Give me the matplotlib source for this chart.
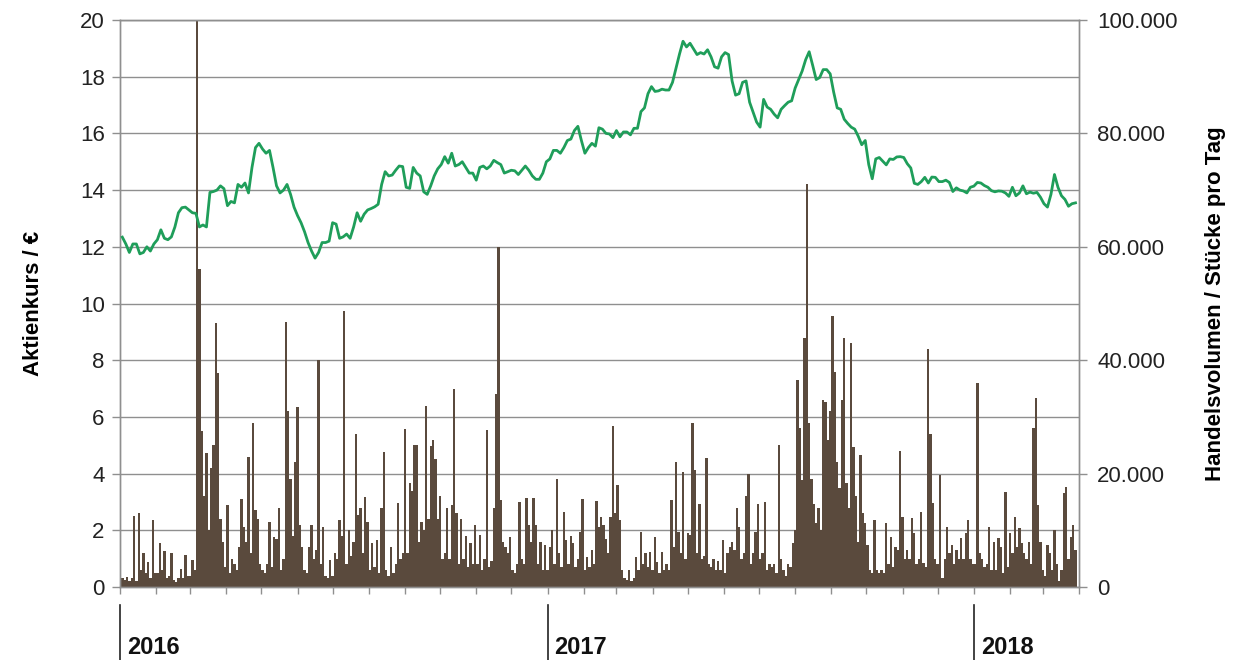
import pandas as pd
import matplotlib
matplotlib.use("Agg")
import matplotlib.pyplot as plt
import matplotlib.dates as mdates
from matplotlib.ticker import MultipleLocator, FuncFormatter
from matplotlib.transforms import blended_transform_factory

plt.rcParams["font.family"] = ["Liberation Sans", "DejaVu Sans"]

# share price in EUR, sampled every 3 calendar days from 2016-01-03
price_2016 = [
    12.34, 12.1, 11.8, 12.1, 12.1, 11.75, 11.8, 12.0, 11.85, 12.1,
    12.25, 12.6, 12.3, 12.25, 12.35, 12.7, 13.2, 13.38, 13.4, 13.3,
    13.2, 13.18, 12.7, 12.77, 12.7, 13.92, 13.95, 14.0, 14.15, 14.05,
    13.45, 13.6, 13.55, 14.2, 14.1, 14.25, 13.9, 14.8, 15.5, 15.65,
    15.45, 15.3, 15.4, 14.8, 14.15, 13.9, 14.0, 14.2, 13.85, 13.4,
    13.1, 12.85, 12.53, 12.15, 11.85, 11.6, 11.8, 12.15, 12.15, 12.2,
    12.85, 12.8, 12.3, 12.35, 12.45, 12.3, 12.7, 13.2, 12.9, 13.15,
    13.3, 13.35, 13.41, 13.5, 14.2, 14.65, 14.5, 14.53, 14.7, 14.85,
    14.83, 14.1, 14.06, 14.8, 14.6, 14.5, 13.94, 13.85, 14.15, 14.5,
    14.75, 14.9, 15.18, 14.95, 15.3, 14.85, 14.9, 15.0, 14.8, 14.6,
    14.6, 14.35, 14.8, 14.85, 14.75, 14.85, 15.05, 14.97, 14.9, 14.6,
    14.65, 14.7, 14.68, 14.55, 14.7, 14.85, 14.7, 14.5, 14.38, 14.38,
    14.6, 15.0,
]
price_2017 = [
    15.1, 15.4, 15.4, 15.3, 15.5, 15.75, 15.8, 16.1,
    16.25, 15.75, 15.3, 15.5, 15.65, 15.55, 16.2, 16.15, 16.0, 15.98,
    15.85, 16.1, 15.88, 16.05, 16.05, 15.95, 16.18, 16.18, 16.77, 16.9,
    17.4, 17.65, 17.48, 17.5, 17.56, 17.53, 17.53, 17.8, 18.3, 18.8,
    19.25, 19.05, 19.18, 18.98, 18.78, 18.85, 18.8, 18.95, 18.7, 18.35,
    18.3, 18.7, 18.85, 18.78, 17.85, 17.35, 17.4, 17.8, 17.85, 17.1,
    16.75, 16.4, 16.22, 17.2, 16.93, 16.85, 16.68, 16.55, 16.85, 16.98,
    17.1, 17.15, 17.6, 17.9, 18.2, 18.6, 18.88, 18.4, 17.9, 17.97,
    18.25, 18.25, 18.1, 17.45, 16.9, 16.85, 16.5, 16.35, 16.22, 16.15,
    15.9, 15.6, 15.75, 14.9, 14.4, 15.1, 15.15, 15.02, 14.89, 15.1,
    15.08, 15.17, 15.18, 15.15, 14.93, 14.78, 14.24, 14.2, 14.3, 14.45,
    14.25, 14.46, 14.45, 14.3, 14.3, 14.35, 14.27, 13.95, 14.08, 14.0,
    13.97, 13.9, 14.1,
]
price_2018 = [
    14.14, 14.27, 14.25, 14.16, 14.1, 13.98, 13.94, 13.97, 13.96, 13.9,
    13.78, 14.1, 13.8, 13.9, 14.15, 13.87, 13.93, 13.89, 13.92, 13.75,
    13.52, 13.4, 13.85, 14.55, 14.1, 13.8, 13.67, 13.43, 13.52, 13.55,
]

# traded volume in thousand shares, every 2 calendar days from 2016-01-03
volume_2016 = [
    # Jan
    1.5, 1.2, 1.8, 1.0, 1.5, 12.5, 1.0, 13.0, 3.0, 6.0, 2.5, 4.4, 1.5, 11.8, 2.5,
    # Feb
    2.5, 7.8, 3.0, 6.3, 1.5, 2.0, 6.0, 1.2, 0.8, 1.5, 3.2, 1.5, 5.6, 2.0,
    # Mar
    2.0, 4.7, 3.0, 100, 56, 27.5, 16, 23.6, 10, 21, 25, 46.5, 37.7, 12, 8, 3.5,
    # Apr
    14.5, 2.5, 5.0, 4.0, 3.0, 7.0, 15.5, 10.6, 8.0, 23.0, 6.0, 29.0, 13.6, 12.0, 4.0,
    # May
    3.0, 2.5, 4.0, 11.4, 3.5, 8.8, 8.5, 14.0, 3.0, 5.0, 46.7, 31.0, 19.0, 9.0, 22.0,
    # Jun
    31.7, 11.0, 7.0, 3.0, 2.5, 7.0, 11.0, 5.0, 6.5, 40.0, 4.0, 10.6, 2.0, 1.5, 4.8,
    # Jul
    2.0, 6.0, 5.0, 11.8, 9.0, 48.7, 4.0, 10.0, 5.5, 8.0, 27.0, 12.7, 14.0, 6.0, 15.8, 11.5,
    # Aug
    3.0, 7.7, 3.5, 8.3, 2.5, 14.0, 23.8, 3.0, 2.0, 7.0, 2.5, 4.0, 14.8, 5.0, 6.0,
    # Sep
    27.9, 6.0, 18.3, 17.0, 25.0, 25.0, 8.0, 11.5, 10.0, 32.0, 12.0, 24.8, 26.0, 22.5, 12.0,
    # Oct
    16.0, 5.0, 6.0, 14.0, 5.0, 14.5, 35.0, 13.0, 4.0, 12.0, 5.0, 9.0, 3.5, 7.7, 4.0, 11.0,
    # Nov
    4.0, 9.2, 3.0, 5.0, 27.7, 3.5, 4.5, 14.0, 34.0, 60.0, 15.3, 8.0, 7.0, 6.0, 8.8,
    # Dec
    3.0, 2.5, 4.0, 15.0, 5.0, 4.0, 15.7, 11.0, 8.0, 15.7, 11.0, 4.0, 8.0, 3.0, 7.4,
]
volume_2017 = [
    # Jan
    3.0, 7.0, 10.0, 4.0, 19.0, 6.0, 3.5, 13.2, 8.3, 4.0, 9.0, 7.8, 3.5, 5.0, 9.7, 15.5,
    # Feb
    3.0, 5.3, 3.5, 6.5, 4.0, 15.2, 10.6, 12.3, 11.0, 8.4, 6.0, 12.3, 28.4, 13.0,
    # Mar
    18.0, 11.8, 3.0, 1.5, 1.2, 3.0, 1.0, 1.5, 5.3, 3.0, 9.7, 4.0, 6.0, 3.5, 6.2,
    # Apr
    3.0, 8.8, 4.4, 2.5, 6.2, 3.0, 4.0, 3.0, 15.3, 7.0, 22.0, 9.7, 6.0, 20.3, 5.0,
    # May
    9.5, 9.2, 29.0, 20.6, 6.0, 14.7, 5.0, 5.5, 22.7, 4.0, 3.5, 5.0, 3.0, 4.5, 3.0, 8.3,
    # Jun
    2.5, 6.0, 7.0, 8.0, 6.5, 14.0, 10.6, 5.0, 6.0, 16.0, 20.0, 4.0, 6.0, 9.7, 14.7,
    # Jul
    5.0, 6.0, 15.0, 3.0, 4.0, 3.5, 4.0, 2.5, 25.0, 5.0, 3.0, 2.0, 4.0, 3.5, 7.7,
    # Aug
    10.0, 36.5, 28.0, 18.8, 44.0, 71.0, 29.0, 19.0, 14.7, 11.3, 14.0, 10.0, 33.0, 32.7, 26.0, 31.0,
    # Sep
    47.8, 38.0, 22.0, 17.5, 33.0, 44.0, 18.3, 14.0, 43.0, 24.7, 16.0, 8.0, 23.3, 13.0, 11.3,
    # Oct
    7.4, 3.0, 2.5, 11.8, 3.0, 2.5, 3.0, 2.5, 11.3, 4.0, 8.8, 3.5, 7.0, 6.5, 24.0,
    # Nov
    12.3, 5.0, 6.5, 5.0, 12.2, 9.5, 4.0, 5.0, 13.2, 4.2, 3.5, 42.0, 27.0, 14.8, 5.0,
    # Dec
    4.0, 19.7, 1.5, 5.0, 10.6, 6.0, 7.4, 4.0, 6.5, 5.0, 8.6, 5.0, 9.5, 11.8, 5.0, 4.0,
]
volume_2018 = [
    # Jan
    4.0, 36.0, 6.0, 5.0, 3.5, 4.0, 10.6, 3.0, 8.0, 3.0, 8.6, 7.0, 2.5, 16.7, 3.5,
    # Feb
    9.5, 6.0, 12.3, 7.0, 10.4, 7.7, 6.0, 5.0, 8.0, 4.0, 28.0, 33.3, 14.5, 8.0,
    # Mar
    3.0, 2.0, 7.4, 6.0, 3.0, 10.0, 4.0, 1.0, 3.0, 16.5, 17.6, 5.0, 8.8, 11.0, 6.5,
]
years = ["2016", "2017", "2018"]

price = price_2016 + price_2017 + price_2018
volume = volume_2016 + volume_2017 + volume_2018
price_dates = pd.date_range("2016-01-03", periods=len(price), freq="3D")
volume_dates = pd.date_range("2016-01-03", periods=len(volume), freq="2D")

grid_col = "#8f8f8f"
fig = plt.figure(figsize=(12.5, 6.6), dpi=100)
ax = fig.add_axes([0.096, 0.1106, 0.7672, 0.8591])
ax2 = ax.twinx()

ax2.bar(volume_dates, volume, width=2.0, color="#5a4a3d", linewidth=0, zorder=2)
ax.plot(price_dates, price, color="#1f9e5a", linewidth=2.0, zorder=3)

ax.set_zorder(ax2.get_zorder() + 1)
ax.patch.set_visible(False)

ax.set_xlim(pd.Timestamp("2016-01-01"), pd.Timestamp("2018-04-01"))
ax.set_ylim(0, 20)
ax2.set_ylim(0, 100)

ax.yaxis.set_major_locator(MultipleLocator(2))
ax2.yaxis.set_major_locator(MultipleLocator(20))
ax2.yaxis.set_minor_locator(MultipleLocator(10))
ax2.yaxis.set_major_formatter(
    FuncFormatter(lambda v, p: f"{v * 1000:,.0f}".replace(",", ".")))

ax.xaxis.set_major_locator(mdates.MonthLocator())
ax.xaxis.set_major_formatter(FuncFormatter(lambda v, p: ""))

ax2.set_axisbelow(True)
ax2.grid(axis="y", which="both", color=grid_col, linewidth=1.0)
ax2.grid(axis="x", which="major", color=grid_col, linewidth=1.0)

for a in (ax, ax2):
    for s in a.spines.values():
        s.set_color(grid_col)
        s.set_linewidth(1.0)

ax.tick_params(axis="y", length=6, width=1, color=grid_col, labelsize=16,
               pad=5, labelcolor="#222222")
ax2.tick_params(axis="y", which="major", length=6, width=1, color=grid_col,
                labelsize=16, pad=7, labelcolor="#222222")
ax2.tick_params(axis="y", which="minor", length=0)
ax.tick_params(axis="x", length=5, width=1, color=grid_col)

ax.set_ylabel("Aktienkurs / €", fontsize=16, fontweight="bold", labelpad=26)
ax2.set_ylabel("Handelsvolumen / Stücke pro Tag", fontsize=16,
               fontweight="bold", labelpad=20)

# year markers below the plot
trans = blended_transform_factory(ax.transData, ax.transAxes)
for y in years:
    x = mdates.date2num(pd.Timestamp(f"{y}-01-01"))
    ax.plot([x, x], [-0.032, -0.13], color="#222222", linewidth=1.2,
            transform=trans, clip_on=False)
    ax.annotate(y, xy=(x, -0.118), xycoords=trans, xytext=(5, 0),
                textcoords="offset points", ha="left", va="baseline",
                fontsize=17, fontweight="bold", color="#111111")

fig.savefig("out.png", dpi=100)
